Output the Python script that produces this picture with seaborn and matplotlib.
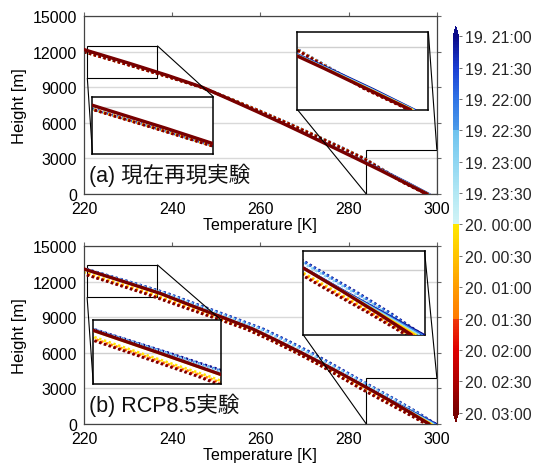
import matplotlib
matplotlib.use("Agg")
import numpy as np
import pandas as pd
import matplotlib.pyplot as plt
import seaborn as sns
from matplotlib.colors import LinearSegmentedColormap, Normalize
from matplotlib.cm import ScalarMappable
from mpl_toolkits.axes_grid1.inset_locator import mark_inset

# ---------------- data ----------------
HEIGHT_M = [0, 1000, 2000, 3000, 4000, 5000, 6000, 7000, 8000, 9000,
            10000, 11000, 12000, 13000, 14000]
TIME_MIN = [0, 60, 120, 180, 240, 300, 360]          # minutes after 19. 21:00

# (a) present-climate reproduction: solid profiles (21:00 ... 03:00)
A_SOLID = [
    [298.4, 293.3, 287.9, 282.2, 276.5, 270.8, 265.0, 259.0, 252.9, 246.8, 238.9, 230.4, 221.5, 212.8, 204.2],
    [298.3, 293.1, 287.7, 282.1, 276.4, 270.7, 264.9, 259.0, 252.9, 246.8, 238.9, 230.4, 221.5, 212.8, 204.2],
    [298.2, 293.0, 287.6, 282.0, 276.3, 270.6, 264.9, 258.9, 252.9, 246.8, 238.9, 230.4, 221.5, 212.8, 204.2],
    [298.1, 292.8, 287.4, 281.9, 276.2, 270.6, 264.8, 258.9, 252.8, 246.7, 238.8, 230.3, 221.4, 212.7, 204.1],
    [298.0, 292.7, 287.3, 281.8, 276.2, 270.5, 264.8, 258.9, 252.8, 246.7, 238.8, 230.3, 221.4, 212.7, 204.1],
    [297.9, 292.6, 287.2, 281.7, 276.1, 270.5, 264.8, 258.9, 252.9, 246.8, 238.9, 230.4, 221.5, 212.8, 204.2],
    [297.8, 292.5, 287.2, 281.7, 276.1, 270.5, 264.8, 258.9, 252.9, 246.8, 238.9, 230.4, 221.5, 212.8, 204.2],
]
# (a) dotted profiles
A_DOTTED = [
    [297.9, 292.5, 288.0, 283.6, 278.0, 272.1, 266.1, 259.9, 253.4, 246.7, 238.2, 229.2, 220.0, 211.1, 202.4],
    [297.8, 292.4, 288.0, 283.5, 277.9, 272.1, 266.1, 259.9, 253.4, 246.7, 238.1, 229.1, 219.9, 211.0, 202.3],
    [297.8, 292.4, 287.9, 283.5, 277.9, 272.0, 266.0, 259.8, 253.3, 246.6, 238.1, 229.1, 219.9, 211.0, 202.3],
    [297.7, 292.3, 287.9, 283.5, 277.8, 272.0, 266.0, 259.8, 253.3, 246.6, 238.0, 229.0, 219.8, 210.9, 202.2],
    [297.7, 292.3, 287.8, 283.4, 277.8, 272.0, 266.0, 259.8, 253.3, 246.6, 238.0, 229.0, 219.8, 210.9, 202.2],
    [297.6, 292.2, 287.8, 283.4, 277.7, 271.9, 265.9, 259.7, 253.2, 246.5, 237.9, 228.9, 219.7, 210.8, 202.1],
    [297.6, 292.2, 287.8, 283.4, 277.7, 271.9, 265.9, 259.7, 253.2, 246.5, 237.9, 228.9, 219.7, 210.8, 202.1],
]
# (b) RCP8.5: solid profiles
B_SOLID = [
    [300.0, 294.8, 289.6, 284.6, 279.6, 274.5, 269.3, 263.9, 258.3, 251.3, 244.2, 237.3, 229.0, 220.5, 212.0],
    [299.7, 294.6, 289.5, 284.6, 279.6, 274.5, 269.3, 263.9, 258.3, 251.3, 244.2, 237.3, 229.0, 220.5, 212.0],
    [299.3, 294.4, 289.4, 284.5, 279.5, 274.5, 269.3, 263.9, 258.3, 251.3, 244.2, 237.3, 229.0, 220.5, 212.0],
    [298.9, 294.1, 289.3, 284.4, 279.4, 274.4, 269.1, 263.7, 258.1, 251.0, 243.9, 237.0, 228.7, 220.2, 211.7],
    [298.6, 294.0, 289.2, 284.4, 279.4, 274.4, 269.2, 263.8, 258.2, 251.2, 244.1, 237.2, 228.9, 220.4, 211.9],
    [298.4, 293.9, 289.2, 284.4, 279.5, 274.5, 269.3, 263.9, 258.3, 251.3, 244.2, 237.3, 229.0, 220.5, 212.0],
    [298.2, 293.8, 289.2, 284.4, 279.5, 274.5, 269.3, 263.9, 258.3, 251.3, 244.2, 237.3, 229.0, 220.5, 212.0],
]
# (b) dotted profiles
B_DOTTED = [
    [299.7, 295.5, 290.9, 286.0, 281.2, 276.5, 271.6, 266.3, 260.7, 253.6, 246.2, 239.0, 230.2, 221.0, 212.2],
    [299.6, 295.3, 290.7, 285.8, 281.0, 276.2, 271.3, 266.0, 260.4, 253.3, 245.9, 238.7, 230.0, 220.9, 212.1],
    [299.3, 295.0, 290.4, 285.5, 280.6, 275.7, 270.7, 265.4, 259.8, 252.7, 245.4, 238.3, 229.7, 220.8, 212.1],
    [297.9, 293.2, 288.3, 283.3, 278.5, 273.7, 268.6, 263.2, 257.4, 250.0, 242.5, 235.2, 226.6, 218.2, 210.0],
    [297.8, 293.0, 288.0, 283.0, 278.2, 273.4, 268.3, 262.9, 257.0, 249.6, 242.0, 234.6, 226.0, 217.5, 209.3],
    [297.6, 292.8, 287.7, 282.7, 278.0, 273.3, 268.2, 262.7, 256.8, 249.2, 241.5, 234.0, 225.5, 217.0, 208.8],
    [297.5, 292.6, 287.5, 282.6, 277.9, 273.2, 268.1, 262.6, 256.7, 249.0, 241.2, 233.7, 225.3, 216.8, 208.6],
]

CB_TICKS_MIN = [0, 30, 60, 90, 120, 150, 180, 210, 240, 270, 300, 330, 360]
CB_LABELS = ["19. 21:00", "19. 21:30", "19. 22:00", "19. 22:30", "19. 23:00",
             "19. 23:30", "20. 00:00", "20. 00:30", "20. 01:00", "20. 01:30",
             "20. 02:00", "20. 02:30", "20. 03:00"]
X_TICKS = [220, 240, 260, 280, 300]
Y_TICKS = [0, 3000, 6000, 9000, 12000, 15000]
PANEL_TEXT = ["(a) 現在再現実験", "(b) RCP8.5実験"]

# ---------------- style ----------------
sns.set_theme(style="white")
plt.rcParams["font.family"] = ["Liberation Sans", "Noto Sans CJK JP", "DejaVu Sans"]
plt.rcParams["axes.unicode_minus"] = False

e = 1e-4
cmap = LinearSegmentedColormap.from_list("time", [
    (0.0, "#0b0b8a"),
    (1 / 12, "#1a3fd4"),
    (2 / 12, "#2f74e6"),
    (3 / 12, "#4d9ce9"),
    (3 / 12 + e, "#6fc3ef"),
    (4 / 12, "#8fd6f2"),
    (5 / 12, "#b3e8f4"),
    (6 / 12 - e, "#d2f4f6"),
    (6 / 12, "#ffe800"),
    (7 / 12, "#ffc400"),
    (8 / 12, "#ff9c00"),
    (9 / 12 - e, "#ff7a00"),
    (9 / 12, "#f03a0a"),
    (10 / 12, "#e00000"),
    (11 / 12, "#b00000"),
    (1.0, "#780000"),
])
norm = Normalize(vmin=0, vmax=360)

fig = plt.figure(figsize=(5.42, 4.64), dpi=100)
ax_a = fig.add_axes([0.155, 0.5797, 0.651, 0.3836])
ax_b = fig.add_axes([0.155, 0.0841, 0.651, 0.3836])
cax = fig.add_axes([0.836, 0.0884, 0.0101, 0.8513])


def draw_profiles(ax, solid, dotted):
    n = len(TIME_MIN)
    for k, (m, T) in enumerate(zip(TIME_MIN, dotted)):
        sns.lineplot(x=T, y=HEIGHT_M, ax=ax, sort=False, estimator=None,
                     color=cmap(norm(m)), lw=1.9,
                     linestyle=(k * 0.12, (0.9, 1.0)), legend=False, zorder=2)
    for k, (m, T) in enumerate(zip(TIME_MIN, solid)):
        last = k == n - 1
        sns.lineplot(x=T, y=HEIGHT_M, ax=ax, sort=False, estimator=None,
                     color=cmap(norm(m)), lw=2.4 if last else 1.2,
                     legend=False, zorder=4 if last else 3)


def style_main(ax):
    ax.set_xticks(X_TICKS)
    ax.set_yticks(Y_TICKS)
    ax.set_xlim(220, 300)
    ax.set_ylim(0, 15000)
    ax.grid(axis="y", color="#d9d9d9", lw=1.0)
    ax.grid(axis="x", visible=False)
    ax.set_axisbelow(True)
    for s in ax.spines.values():
        s.set_color("#444444")
        s.set_linewidth(0.9)
    ax.tick_params(direction="out", length=3, width=0.8, color="#666666",
                   top=True, right=True, labeltop=False, labelright=False,
                   labelsize=11.5, pad=2, labelcolor="black")
    ax.set_xlabel("Temperature [K]", fontsize=11.5, labelpad=1, color="black")
    ax.set_ylabel("Height [m]", fontsize=12, labelpad=4, color="black")


def add_inset(ax, rect, xlim, ylim, solid, dotted):
    ins = ax.inset_axes(rect)
    ins.set_facecolor("white")
    draw_profiles(ins, solid, dotted)
    ins.set_xticks([])
    ins.set_yticks(Y_TICKS)
    ins.set_xlim(*xlim)
    ins.set_ylim(*ylim)
    ins.tick_params(length=0, labelleft=False, labelbottom=False)
    ins.grid(axis="y", color="#cfcfcf", lw=1.0)
    ins.grid(axis="x", visible=False)
    ins.set_axisbelow(True)
    ins.set_xlabel("")
    ins.set_ylabel("")
    for s in ins.spines.values():
        s.set_color("black")
        s.set_linewidth(1.1)
    mark_inset(ax, ins, loc1=1, loc2=3, fc="none", ec="black", lw=0.8)
    return ins


for ax, solid, dotted, txt in [(ax_a, A_SOLID, A_DOTTED, PANEL_TEXT[0]),
                               (ax_b, B_SOLID, B_DOTTED, PANEL_TEXT[1])]:
    draw_profiles(ax, solid, dotted)
    style_main(ax)
    ax.text(0.014, 0.073, txt, transform=ax.transAxes, fontsize=15.5,
            va="baseline", ha="left", color="#111111")

add_inset(ax_a, [0.024, 0.2247, 0.342, 0.323], (220.75, 236.6), (9780, 12500), A_SOLID, A_DOTTED)
add_inset(ax_a, [0.605, 0.4736, 0.371, 0.435], (284, 300), (0, 3730), A_SOLID, A_DOTTED)
add_inset(ax_b, [0.0263, 0.2247, 0.362, 0.3596], (220.7, 236.6), (10680, 13420), B_SOLID, B_DOTTED)
add_inset(ax_b, [0.621, 0.5017, 0.344, 0.472], (284, 300), (0, 3880), B_SOLID, B_DOTTED)

sm = ScalarMappable(norm=norm, cmap=cmap)
cb = fig.colorbar(sm, cax=cax, extend="both", extendfrac=0.025, ticks=CB_TICKS_MIN)
cb.ax.set_yticklabels(CB_LABELS)
cb.ax.invert_yaxis()
cb.outline.set_visible(False)
cb.ax.tick_params(length=2.5, width=0.6, pad=2, labelsize=11.5, color="#555555")

fig.savefig("out.png", dpi=100)
